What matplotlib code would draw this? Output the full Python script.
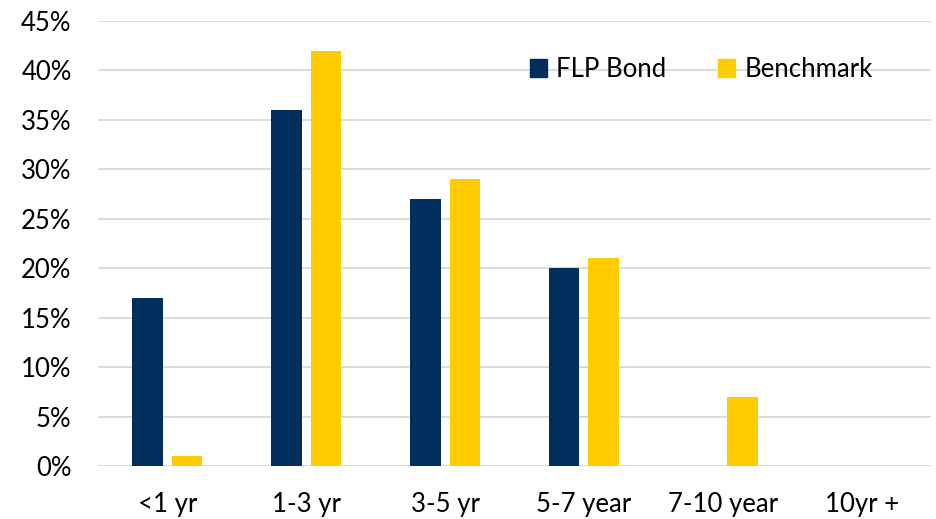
import numpy as np
import matplotlib.pyplot as plt
from matplotlib.patches import Patch, Rectangle
from matplotlib.ticker import FuncFormatter

categories = ["<1 yr", "1-3 yr", "3-5 yr", "5-7 year", "7-10 year", "10yr +"]
flp_bond = [17, 36, 27, 20, 0, 0]
benchmark = [1, 42, 29, 21, 7, 0]

navy = "#002E5D"
gold = "#FFCC00"

plt.rcParams['font.family'] = ['Lato', 'DejaVu Sans']

fig = plt.figure(figsize=(9.36, 5.19), dpi=100)
ax = fig.add_axes([98 / 936, 53 / 519, (931 - 98) / 936, (466 - 21) / 519])

x = np.arange(len(categories))
w = 0.22
gap = 0.065
ax.bar(x - (w + gap) / 2, flp_bond, width=w, color=navy, zorder=3)
ax.bar(x + (w + gap) / 2, benchmark, width=w, color=gold, zorder=3)

ax.set_xlim(-0.5, len(categories) - 0.5)
ax.set_ylim(0, 45)
ax.set_yticks(np.arange(0, 46, 5))
ax.yaxis.set_major_formatter(FuncFormatter(lambda v, _: f"{v:.0f}%"))
ax.set_xticks(x)
ax.set_xticklabels(categories)
ax.grid(axis='y', color='#D9D9D9', linewidth=1.3, zorder=0)
for s in ax.spines.values():
    s.set_visible(False)
ax.tick_params(axis='both', length=0, labelsize=18.5, colors='black')
ax.tick_params(axis='x', pad=19)
ax.tick_params(axis='y', pad=19)

# white background behind the legend hides part of the 40% gridline
ax.add_patch(Rectangle((0.4826, 0.86), 0.4994, 0.06, transform=ax.transAxes,
                       facecolor='white', edgecolor='none', zorder=1))

handles = [Patch(color=navy, label="FLP Bond"), Patch(color=gold, label="Benchmark")]
leg = ax.legend(handles=handles, loc='center', bbox_to_anchor=(0.724, 0.891),
                ncol=2, frameon=False, fontsize=18.5, handlelength=0.68,
                handleheight=0.68, handletextpad=0.35, columnspacing=2.0,
                borderpad=0.3)
leg.set_zorder(5)

fig.savefig("out.png", dpi=100)
